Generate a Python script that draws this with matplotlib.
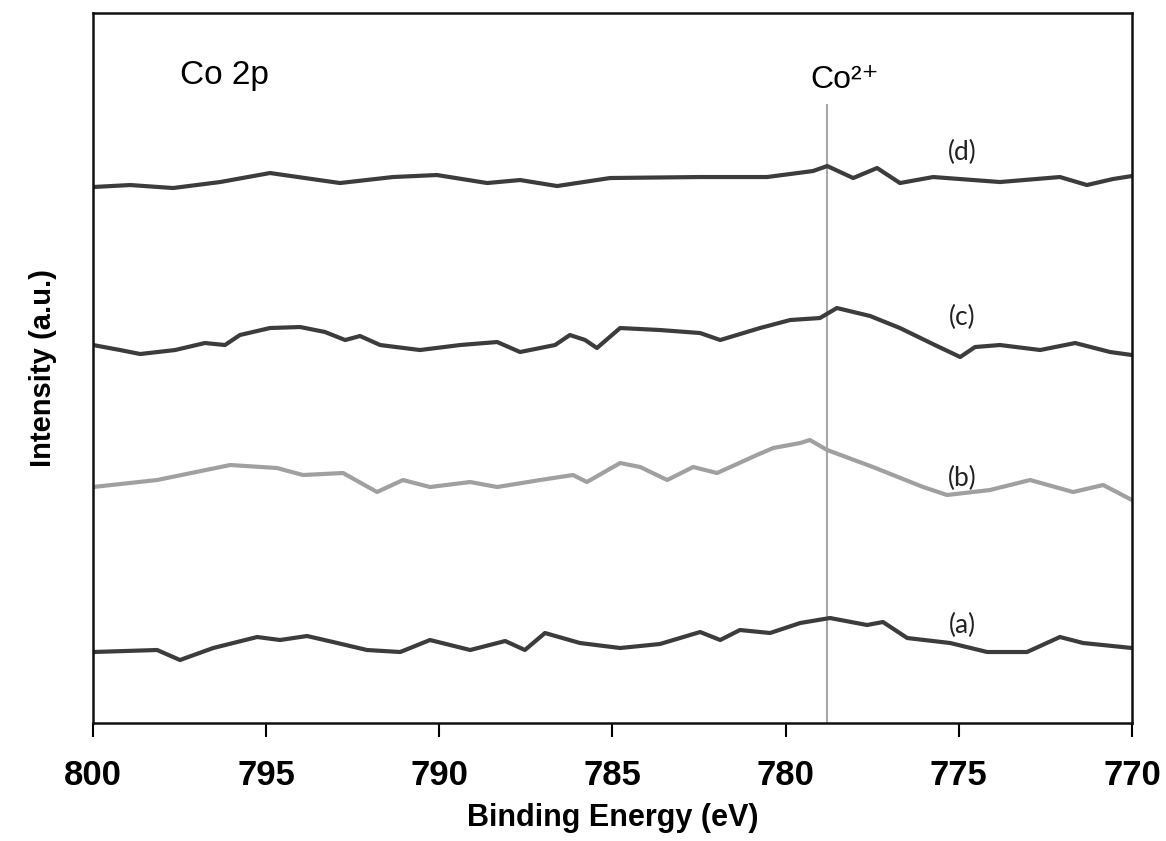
import matplotlib.pyplot as plt

# binding energy (eV) and intensity (a.u., offset per spectrum)
E_a = [800.0, 798.15, 797.49, 796.53, 795.26, 794.60, 793.82, 793.07, 792.09, 791.13,
       790.27, 789.11, 788.10, 787.53, 786.95, 785.94, 784.78, 783.63, 782.47, 781.89,
       781.32, 780.45, 779.58, 778.72, 777.65, 777.19, 776.49, 775.25, 774.18, 773.03,
       772.08, 771.41, 770.0]
I_a = [71, 73, 63, 75, 86, 83, 87, 81, 73, 71,
       83, 73, 82, 73, 90, 80, 75, 79, 91, 83,
       93, 90, 100, 105, 98, 101, 85, 80, 71, 71,
       86, 80, 75]

E_b = [800.0, 798.15, 796.04, 794.69, 793.94, 792.78, 791.80, 791.05, 790.27, 789.11,
       788.33, 787.09, 786.14, 785.74, 784.78, 784.20, 783.42, 782.67, 781.98, 780.83,
       780.36, 779.58, 779.30, 778.80, 777.48, 776.03, 775.34, 774.10, 772.94, 771.70,
       770.83, 770.0]
I_b = [236, 243, 258, 255, 248, 250, 231, 243, 236, 241,
       236, 243, 248, 241, 260, 256, 243, 256, 250, 268,
       275, 280, 283, 273, 256, 236, 228, 233, 243, 231,
       238, 223]

E_c = [800.0, 799.22, 798.64, 797.63, 796.77, 796.19, 795.76, 794.89, 794.02, 793.30,
       792.72, 792.29, 791.71, 790.56, 789.40, 788.33, 787.67, 786.66, 786.23, 785.79,
       785.45, 784.78, 783.63, 782.47, 781.89, 780.74, 779.87, 779.01, 778.52, 777.56,
       776.70, 775.69, 774.96, 774.53, 773.81, 772.65, 771.64, 770.63, 770.0]
I_c = [378, 373, 369, 373, 380, 378, 388, 395, 396, 391,
       383, 387, 378, 373, 378, 381, 371, 378, 388, 383,
       375, 395, 393, 390, 383, 395, 403, 405, 415, 407,
       395, 378, 366, 376, 378, 373, 380, 371, 368]

E_d = [800.0, 798.93, 797.69, 796.33, 794.89, 792.87, 791.34, 790.07, 788.62, 787.67,
       786.60, 785.07, 782.47, 780.54, 779.21, 778.80, 778.05, 777.36, 776.70, 775.74,
       773.81, 772.08, 771.30, 770.55, 770.0]
I_d = [536, 538, 535, 541, 550, 540, 546, 548, 540, 543,
       537, 545, 546, 546, 552, 557, 545, 555, 540, 546,
       541, 546, 538, 544, 547]

CO2_POS = 778.8
labels = ["(a)", "(b)", "(c)", "(d)"]

fig = plt.figure(figsize=(11.66, 8.41), dpi=100)
ax = fig.add_axes([0.0798, 0.1403, 0.891, 0.8442])

dark = "#3c3c3c"
ax.plot(E_a, I_a, color=dark, lw=3)
ax.plot(E_b, I_b, color="#a0a0a0", lw=3)
ax.plot(E_c, I_c, color=dark, lw=3)
ax.plot(E_d, I_d, color=dark, lw=3)

ax.plot([CO2_POS, CO2_POS], [0, 618], color="#a8a8a8", lw=1.5, zorder=0)

label_y = [98, 245, 406, 571]
for lab, y in zip(labels, label_y):
    ax.text(774.9, y, lab, fontsize=19, family="Lato", ha="center", va="center", color="#222222")

ax.text(797.5, 648, "Co 2p", fontsize=24, family="Liberation Sans", ha="left", va="center")
ax.text(778.3, 643, "Co²⁺", fontsize=23, family=["Liberation Sans", "DejaVu Sans"],
        ha="center", va="center")

ax.set_xlim(800, 770)
ax.set_ylim(0, 710)
ax.set_xticks([800, 795, 790, 785, 780, 775, 770])
ax.set_yticks([])
ax.tick_params(axis="x", direction="out", length=10, width=1.5, pad=16)
for lbl in ax.get_xticklabels():
    lbl.set_fontsize(25)
    lbl.set_fontweight("bold")
    lbl.set_family("Liberation Sans")
for s in ax.spines.values():
    s.set_linewidth(1.8)
    s.set_color("#111111")

ax.set_xlabel("Binding Energy (eV)", fontsize=22, fontweight="bold", family="Liberation Sans", labelpad=8)
ax.set_ylabel("Intensity (a.u.)", fontsize=21, fontweight="bold", family="Liberation Sans", labelpad=26)

fig.savefig("out.png", dpi=100)
